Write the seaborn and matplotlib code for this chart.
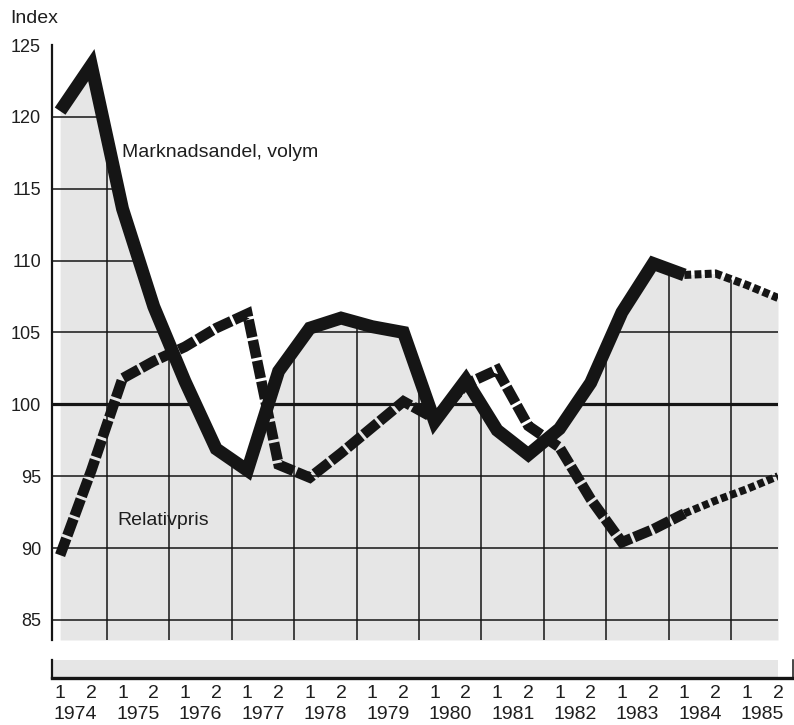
import numpy as np
import pandas as pd
import matplotlib
matplotlib.use("Agg")
import matplotlib.pyplot as plt
import seaborn as sns
from matplotlib.path import Path
from matplotlib.transforms import blended_transform_factory

# ---------------- data ----------------
years = [str(y) for y in range(1974, 1986)]
halves = ["1", "2"] * 12
marknadsandel = [120.4, 123.6, 113.6, 106.8, 101.6, 96.9, 95.4, 102.3,
                 105.3, 106.0, 105.4, 105.0, 98.8, 101.7, 98.2, 96.5,
                 98.3, 101.5, 106.4, 109.8, 109.0, 109.1, 108.3, 107.4]
relativpris = [89.5, 95.4, 101.8, 103.0, 104.0, 105.3, 106.3, 95.8,
               94.9, 96.6, 98.4, 100.2, 99.0, 101.4, 102.4, 98.5,
               97.0, 93.4, 90.4, 91.3, 92.4, 93.3, 94.1, 95.0]
y_ticks = [85, 90, 95, 100, 105, 110, 115, 120, 125]
forecast_start = 20   # index where the dotted (forecast) part begins

# ---------------- style ----------------
sns.set_style("white")
plt.rcParams['font.family'] = ['Liberation Sans', 'DejaVu Sans']
INK = "#151515"
TXT = "#1e1e1e"
GREY = "#e6e6e6"

W, H = 794, 725
fig = plt.figure(figsize=(W / 100, H / 100), dpi=100)
fig.patch.set_facecolor("white")


def fx(px):
    return px / W


def fy(py):
    return 1 - py / H


ax = fig.add_axes([fx(52), fy(640), fx(778) - fx(52), fy(45) - fy(640)])
strip = fig.add_axes([fx(52), fy(678), fx(793) - fx(52), fy(660) - fy(678)])

n = len(marknadsandel)
t = np.arange(n)
df = pd.DataFrame({"t": t, "M": marknadsandel, "R": relativpris})

XL = (-0.26, 23.0)
YL = (83.6, 125.0)
ax.set_xlim(XL)
ax.set_ylim(YL)
ax.set_facecolor("white")

# grey area below market share curve
ax.fill_between(df.t, df.M, YL[0], color=GREY, lw=0, zorder=1)

# clip path for grid lines (area under curve, extended to the y axis)
verts = [(XL[0], YL[0]), (XL[0], df.M.iloc[0])] + list(zip(df.t, df.M)) + \
        [(df.t.iloc[-1], YL[0]), (XL[0], YL[0])]
clip = Path(verts, closed=True)

for v in y_ticks[:-1]:
    ln = ax.axhline(v, color=INK, lw=2.3 if v == 100 else 1.1, zorder=2)
    ln.set_clip_path(clip, ax.transData)
for k in range(11):
    ln = ax.axvline(1.5 + 2 * k, color=INK, lw=1.1, zorder=2)
    ln.set_clip_path(clip, ax.transData)

# ---------------- lines ----------------
common = dict(color=INK, ax=ax, legend=False, sort=False)
fs = forecast_start
# Relativpris dashed
sns.lineplot(data=df.iloc[:fs + 1], x="t", y="R", lw=7.6,
             linestyle=(0, (1.7, 0.28)), dash_capstyle="butt",
             dash_joinstyle="miter", zorder=3, **common)
# Relativpris dotted
sns.lineplot(data=df.iloc[fs:], x="t", y="R", lw=5.6,
             linestyle=(0, (0.85, 0.42)), dash_capstyle="butt",
             dash_joinstyle="miter", zorder=3, **common)
# Marknadsandel solid
sns.lineplot(data=df.iloc[:fs + 1], x="t", y="M", lw=9.3,
             solid_capstyle="butt", solid_joinstyle="miter", zorder=4, **common)
# Marknadsandel dotted
sns.lineplot(data=df.iloc[fs:], x="t", y="M", lw=5.8,
             linestyle=(0, (0.85, 0.42)), dash_capstyle="butt",
             dash_joinstyle="miter", zorder=4, **common)

# ---------------- axes cosmetics ----------------
sns.despine(ax=ax, top=True, right=True, bottom=True)
ax.spines["left"].set_linewidth(1.6)
ax.spines["left"].set_color(INK)
ax.set_xticks([])
ax.set_yticks(y_ticks)
ax.set_yticklabels([str(v) for v in y_ticks])
ax.tick_params(axis="y", direction="out", length=6, width=1.1, pad=2,
               labelsize=13, colors=INK, labelcolor=TXT)
ax.set_xlabel("")
ax.set_ylabel("")
ax.grid(False)

ax.text(1.99, 117.19, "Marknadsandel, volym", fontsize=14, color=TXT,
        ha="left", va="baseline", zorder=5)
ax.text(1.83, 91.58, "Relativpris", fontsize=14, color=TXT,
        ha="left", va="baseline", zorder=5)
fig.text(fx(10), fy(23), "Index", fontsize=14, color=TXT,
         ha="left", va="baseline")

# ---------------- lower time strip ----------------
SXL = (-0.26, 23.48)
strip.set_xlim(SXL)
strip.set_ylim(0, 1)
strip.set_facecolor("white")
strip.axvspan(SXL[0], 23.0, color=GREY, lw=0, zorder=0)
strip.spines["top"].set_visible(False)
strip.spines["left"].set_linewidth(1.6)
strip.spines["right"].set_linewidth(1.1)
strip.spines["bottom"].set_linewidth(2.4)
for s in ["left", "right", "bottom"]:
    strip.spines[s].set_color(INK)
strip.set_yticks([])
strip.set_xticks([1.5 + 2 * k for k in range(11)])
strip.set_xticks([0.5 + 2 * k for k in range(12)], minor=True)
strip.tick_params(axis="x", which="major", direction="in", length=13,
                  width=1.5, colors=INK, labelbottom=False)
strip.tick_params(axis="x", which="minor", direction="in", length=7,
                  width=1.5, colors=INK, labelbottom=False)
strip.grid(False)

tr = blended_transform_factory(strip.transData, fig.transFigure)
for i, h in enumerate(halves):
    strip.text(i, fy(698), h, transform=tr, fontsize=14, color=TXT,
               ha="center", va="baseline", clip_on=False)
for k, yr in enumerate(years):
    strip.text(2 * k + 0.5, fy(719), yr, transform=tr, fontsize=14,
               color=TXT, ha="center", va="baseline", clip_on=False)

fig.savefig("out.png", dpi=100, facecolor="white")
